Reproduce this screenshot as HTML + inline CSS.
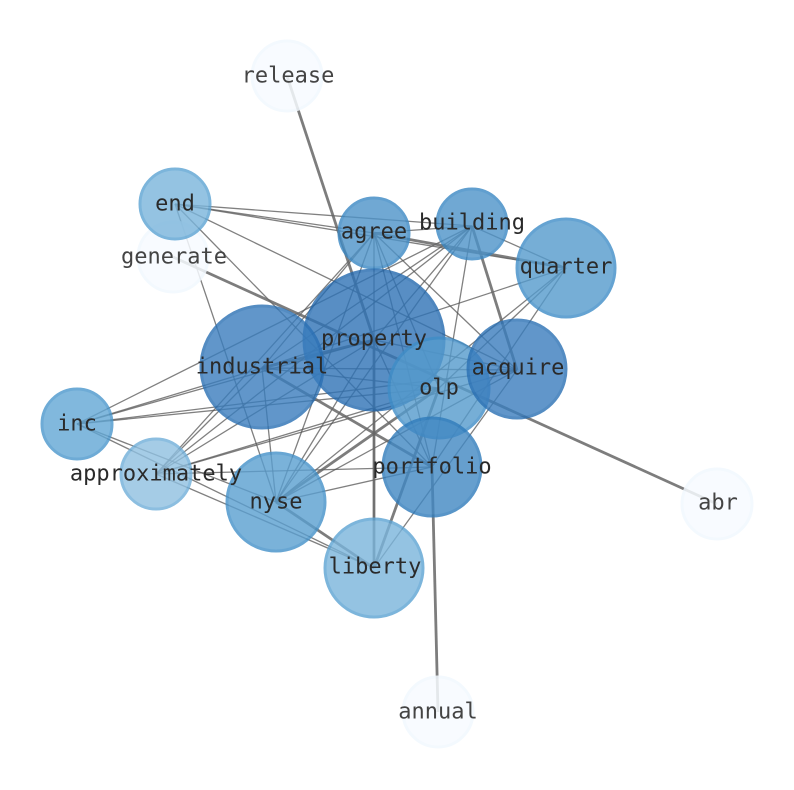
<!DOCTYPE html>
<html><head><meta charset="utf-8"><style>
html,body{margin:0;padding:0;background:#fff;}
svg{display:block;}
text{font-family:"DejaVu Sans Mono","Liberation Mono",monospace;font-size:22px;fill:#2a2a2a;text-anchor:middle;dominant-baseline:central;}
.p{fill:#444;}
</style></head><body>
<svg width="794" height="790" viewBox="0 0 794 790" xmlns="http://www.w3.org/2000/svg">
<g stroke="#555" stroke-opacity="0.75" stroke-width="1.3" fill="none">
<line x1="175" y1="204" x2="374" y2="233"/>
<line x1="175" y1="204" x2="472" y2="226"/>
<line x1="175" y1="204" x2="517" y2="370"/>
<line x1="175" y1="204" x2="432" y2="467"/>
<line x1="175" y1="204" x2="276" y2="502"/>
<line x1="175" y1="204" x2="566" y2="268"/>
<line x1="374" y1="233" x2="472" y2="226"/>
<line x1="374" y1="233" x2="262" y2="368"/>
<line x1="374" y1="233" x2="439" y2="388"/>
<line x1="374" y1="233" x2="432" y2="467"/>
<line x1="374" y1="233" x2="276" y2="502"/>
<line x1="374" y1="233" x2="517" y2="370"/>
<line x1="374" y1="233" x2="156" y2="474"/>
<line x1="374" y1="233" x2="374" y2="568"/>
<line x1="472" y1="226" x2="566" y2="268"/>
<line x1="472" y1="226" x2="262" y2="368"/>
<line x1="472" y1="226" x2="374" y2="340"/>
<line x1="472" y1="226" x2="156" y2="474"/>
<line x1="472" y1="226" x2="276" y2="502"/>
<line x1="472" y1="226" x2="432" y2="467"/>
<line x1="472" y1="226" x2="77" y2="424"/>
<line x1="566" y1="268" x2="262" y2="368"/>
<line x1="566" y1="268" x2="276" y2="502"/>
<line x1="566" y1="268" x2="432" y2="467"/>
<line x1="566" y1="268" x2="439" y2="388"/>
<line x1="374" y1="340" x2="517" y2="370"/>
<line x1="374" y1="340" x2="432" y2="467"/>
<line x1="374" y1="340" x2="156" y2="474"/>
<line x1="374" y1="340" x2="276" y2="502"/>
<line x1="374" y1="340" x2="77" y2="424"/>
<line x1="262" y1="368" x2="517" y2="370"/>
<line x1="262" y1="368" x2="439" y2="388"/>
<line x1="262" y1="368" x2="77" y2="424"/>
<line x1="262" y1="368" x2="156" y2="474"/>
<line x1="262" y1="368" x2="276" y2="502"/>
<line x1="517" y1="370" x2="77" y2="424"/>
<line x1="517" y1="370" x2="156" y2="474"/>
<line x1="517" y1="370" x2="276" y2="502"/>
<line x1="517" y1="370" x2="374" y2="568"/>
<line x1="439" y1="388" x2="77" y2="424"/>
<line x1="439" y1="388" x2="156" y2="474"/>
<line x1="432" y1="467" x2="156" y2="474"/>
<line x1="432" y1="467" x2="276" y2="502"/>
<line x1="77" y1="424" x2="374" y2="568"/>
<line x1="77" y1="424" x2="276" y2="502"/>
<line x1="156" y1="474" x2="374" y2="568"/>
</g>
<g stroke="#666" stroke-opacity="0.85" stroke-width="2.8" fill="none">
<line x1="287" y1="76" x2="374" y2="340"/>
<line x1="173" y1="257" x2="717" y2="504"/>
<line x1="262" y1="368" x2="432" y2="467"/>
<line x1="472" y1="226" x2="517" y2="370"/>
<line x1="432" y1="467" x2="438" y2="712"/>
<line x1="374" y1="340" x2="374" y2="568"/>
<line x1="439" y1="388" x2="374" y2="568"/>
<line x1="276" y1="502" x2="374" y2="568"/>
<line x1="276" y1="502" x2="439" y2="388"/>
<line x1="262" y1="368" x2="374" y2="340"/>
<line x1="374" y1="233" x2="566" y2="268"/>
</g>
<g stroke-width="3">
<circle cx="287" cy="76" r="35" fill="#f7fbff" stroke="#f2f8fe" opacity="0.85"/>
<circle cx="173" cy="257" r="35" fill="#f7fbff" stroke="#f2f8fe" opacity="0.85"/>
<circle cx="717" cy="504" r="35" fill="#f7fbff" stroke="#f2f8fe" opacity="0.85"/>
<circle cx="438" cy="712" r="35" fill="#f7fbff" stroke="#f2f8fe" opacity="0.85"/>
<circle cx="175" cy="204" r="35" fill="#7ab5dc" stroke="#5ca3d3" opacity="0.8"/>
<circle cx="374" cy="233" r="35" fill="#4d93c9" stroke="#3a88c4" opacity="0.8"/>
<circle cx="472" cy="224" r="35" fill="#4d93c9" stroke="#3a88c4" opacity="0.8"/>
<circle cx="566" cy="268" r="49" fill="#559bcd" stroke="#3f8dc7" opacity="0.8"/>
<circle cx="374" cy="340" r="70" fill="#2f73b6" stroke="#2268ae" opacity="0.8"/>
<circle cx="262" cy="367" r="61" fill="#3a7dbd" stroke="#2a70b4" opacity="0.8"/>
<circle cx="439" cy="388" r="50" fill="#559bcd" stroke="#3f8dc7" opacity="0.8"/>
<circle cx="517" cy="369" r="49" fill="#3a7dbd" stroke="#2a70b4" opacity="0.8"/>
<circle cx="77" cy="424" r="35" fill="#62a7d5" stroke="#4a97cc" opacity="0.8"/>
<circle cx="156" cy="474" r="35" fill="#8fc0e1" stroke="#70afd9" opacity="0.8"/>
<circle cx="276" cy="502" r="49" fill="#5a9fd0" stroke="#4391c9" opacity="0.8"/>
<circle cx="432" cy="467" r="49" fill="#4188c3" stroke="#2f7bbb" opacity="0.8"/>
<circle cx="374" cy="568" r="49" fill="#7ab5dc" stroke="#5ca3d3" opacity="0.8"/>
</g>
<g>
<text x="288" y="76" class="p">release</text>
<text x="175" y="204">end</text>
<text x="174" y="257" class="p">generate</text>
<text x="374" y="232">agree</text>
<text x="472" y="223">building</text>
<text x="566" y="267">quarter</text>
<text x="374" y="339">property</text>
<text x="262" y="367">industrial</text>
<text x="439" y="388">olp</text>
<text x="518" y="368">acquire</text>
<text x="77" y="424">inc</text>
<text x="156" y="474">approximately</text>
<text x="276" y="502">nyse</text>
<text x="432" y="467">portfolio</text>
<text x="375" y="567">liberty</text>
<text x="718" y="503" class="p">abr</text>
<text x="438" y="712" class="p">annual</text>
</g>
</svg>
</body></html>
